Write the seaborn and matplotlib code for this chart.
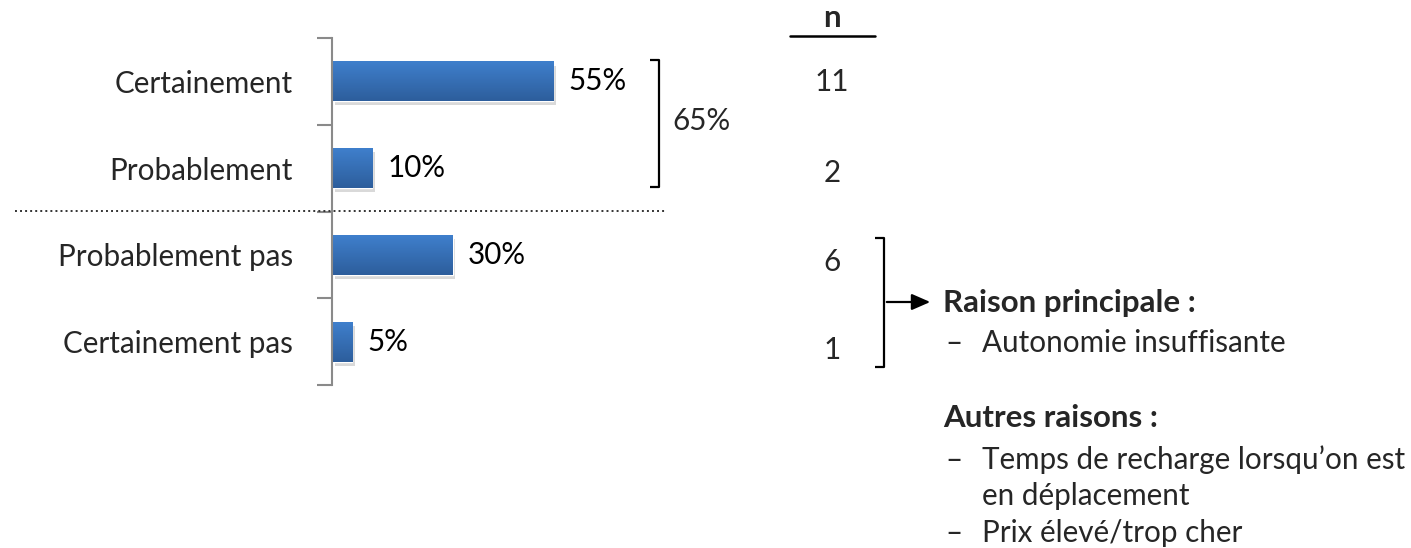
import numpy as np
import pandas as pd
import seaborn as sns
import matplotlib
matplotlib.use("Agg")
import matplotlib.pyplot as plt
import matplotlib.patheffects as pe
from matplotlib.colors import LinearSegmentedColormap
from matplotlib.lines import Line2D

# ---- data -------------------------------------------------------------
categories = ["Certainement", "Probablement", "Probablement pas", "Certainement pas"]
percentages = [55, 10, 30, 5]
n_values = [11, 2, 6, 1]
positive_total = "65%"
main_reason_title = "Raison principale :"
main_reasons = ["Autonomie insuffisante"]
other_reason_title = "Autres raisons :"
other_reasons = [["Temps de recharge lorsqu\u2019on est", "en déplacement"],
                 ["Prix élevé/trop cher"]]

# ---- style ------------------------------------------------------------
sns.set_theme(style="white")
plt.rcParams["font.family"] = ["Lato", "DejaVu Sans"]
TXT = 21.3
TXT_B = 22.5
W, H = 1411, 548
DPI = 100


def fx(x):
    return x / W


def fy(y):
    return 1 - y / H


fig = plt.figure(figsize=(W / DPI, H / DPI), dpi=DPI)
ax = fig.add_axes([fx(332), fy(385), fx(402), (385 - 38) / H])

df = pd.DataFrame({"reponse": categories, "pct": percentages})
sns.barplot(data=df, x="pct", y="reponse", orient="h", color="#3A72BA",
            width=0.46, ax=ax, saturation=1)

ax.set_xlim(0, 100)
ax.set_ylim(len(categories) - 0.5, -0.5)

# gradient fill (lighter on top) + soft drop shadow on each bar
grad_cmap = LinearSegmentedColormap.from_list("bar", ["#3F7FCC", "#2D5E9C"])
grad = np.linspace(0, 1, 64).reshape(-1, 1)
for p in list(ax.patches):
    p.set_path_effects([pe.SimplePatchShadow(offset=(2, -3), alpha=0.22,
                                             shadow_rgbFace="#555555"),
                        pe.Normal()])
    b = p.get_bbox()
    im = ax.imshow(grad, cmap=grad_cmap, aspect="auto", origin="upper",
                   extent=[b.x0, b.x1, max(b.y0, b.y1), min(b.y0, b.y1)],
                   zorder=p.get_zorder() + 0.1, interpolation="bilinear")
    im.set_clip_path(p)
ax.set_xlim(0, 100)
ax.set_ylim(len(categories) - 0.5, -0.5)

ax.bar_label(ax.containers[0], labels=[f"{v}%" for v in percentages],
             padding=11, fontsize=TXT, color="black")

# axis styling: only the left spine, ticks between categories
for s in ["top", "right", "bottom"]:
    ax.spines[s].set_visible(False)
ax.spines["left"].set_color("#8A8A8A")
ax.spines["left"].set_linewidth(1.5)
ax.set_xlabel("")
ax.set_ylabel("")
ax.set_xticks([])
ax.set_yticks(np.arange(len(categories)))
ax.set_yticklabels(categories, fontsize=TXT)
ax.set_yticks(np.arange(len(categories) + 1) - 0.5, minor=True)
ax.tick_params(axis="y", which="major", length=0, pad=28)
ax.tick_params(axis="y", which="minor", length=10.8, width=1.5,
               color="#8A8A8A", direction="out", left=True)
ax.set_facecolor("none")

# dotted separator between positive and negative answers
fig.add_artist(Line2D([fx(15), fx(665)], [fy(211), fy(211)],
                      transform=fig.transFigure, color="#333333",
                      lw=1.4, linestyle=(0, (1, 1.6))))

# bracket grouping the positive answers
bk = dict(transform=fig.transFigure, color="black", lw=1.6,
          solid_capstyle="butt")
fig.add_artist(Line2D([fx(650), fx(659), fx(659), fx(650)],
                      [fy(60), fy(60), fy(187), fy(187)], **bk))
fig.text(fx(672), fy(121), positive_total, fontsize=TXT, va="center", ha="left")

# n column
fig.text(fx(832), fy(18), "n", fontsize=TXT_B, fontweight="bold",
         ha="center", va="center")
fig.add_artist(Line2D([fx(790), fx(875)], [fy(36), fy(36)], transform=fig.transFigure,
                      color="black", lw=1.8))
n_y = [82, 173, 262, 350]
for v, y in zip(n_values, n_y):
    fig.text(fx(832), fy(y), str(v), fontsize=TXT, ha="center", va="center")

# bracket grouping the negative answers, with arrow to the reasons
fig.add_artist(Line2D([fx(875), fx(884), fx(884), fx(875)],
                      [fy(238), fy(238), fy(367), fy(367)], **bk))
fig.add_artist(matplotlib.patches.FancyArrowPatch(
    (fx(884), fy(302)), (fx(933), fy(302)), transform=fig.transFigure,
    arrowstyle="-|>,head_length=0.8,head_width=0.35", mutation_scale=14,
    color="black", lw=1.6))

# reasons
fig.text(fx(943), fy(303), main_reason_title, fontsize=TXT_B, fontweight="bold",
         va="center", ha="left")
y = 343
for r in main_reasons:
    fig.text(fx(945), fy(y), "\u2013", fontsize=TXT, va="center", ha="left")
    fig.text(fx(982), fy(y), r, fontsize=TXT, va="center", ha="left")
    y += 38

fig.text(fx(943), fy(418), other_reason_title, fontsize=TXT_B, fontweight="bold",
         va="center", ha="left")
y = 460
for item in other_reasons:
    fig.text(fx(945), fy(y), "\u2013", fontsize=TXT, va="center", ha="left")
    for line in item:
        fig.text(fx(982), fy(y), line, fontsize=TXT, va="center", ha="left")
        y += 36.5

fig.savefig("out.png", dpi=DPI, facecolor="white")
